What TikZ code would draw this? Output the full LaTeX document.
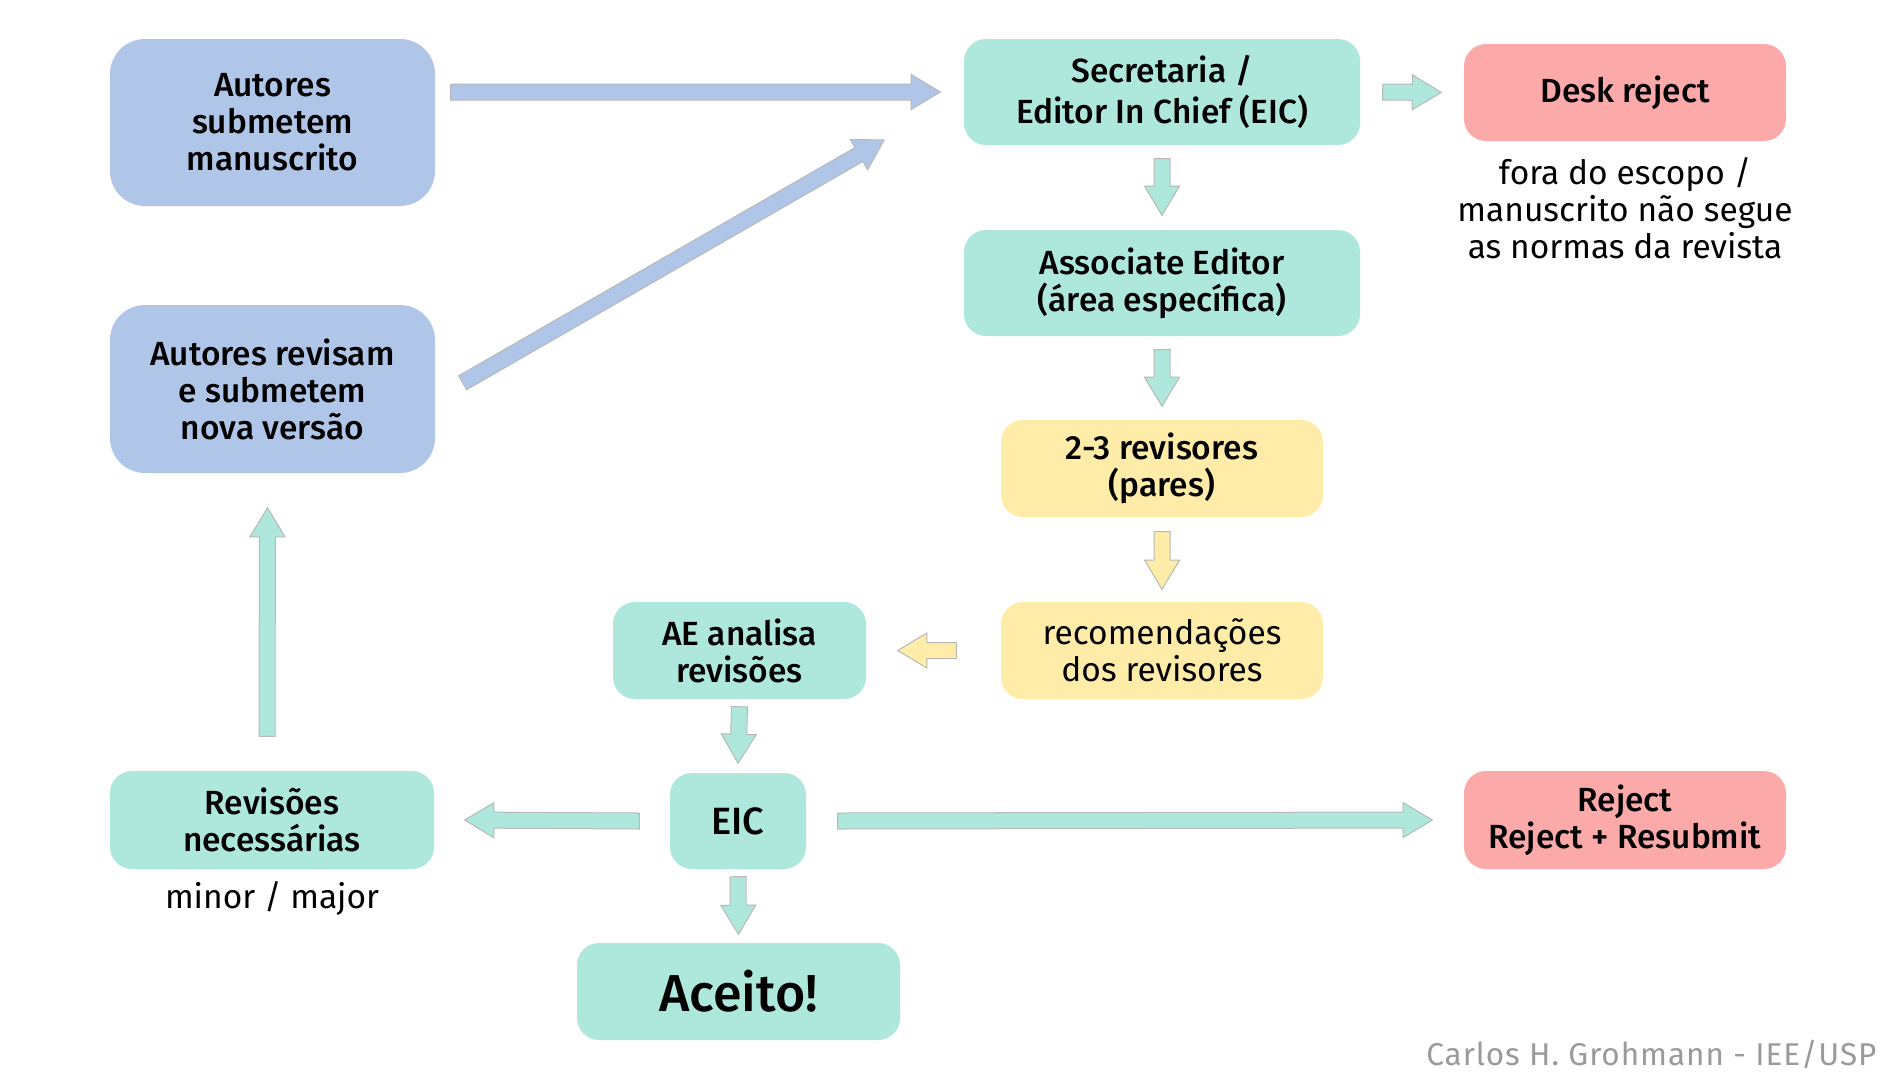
\documentclass[tikz,border=0pt]{standalone}
\usepackage{fontspec}
\IfFontExistsTF{Fira Sans Medium}{\setmainfont{Fira Sans}[BoldFont={Fira Sans Medium}]}{\setmainfont{Fira Sans}}
\usetikzlibrary{shapes.arrows,calc}
\definecolor{boxblue}{HTML}{B0C6E8}
\definecolor{boxteal}{HTML}{AEE8DC}
\definecolor{boxyellow}{HTML}{FFECA8}
\definecolor{boxred}{HTML}{FCA9A9}
\definecolor{arrowgray}{HTML}{B8B8B8}
\definecolor{creditgray}{HTML}{9A9A9A}
\tikzset{
  box/.style={rectangle, rounded corners=22pt, inner sep=0pt, align=center,
    font=\fontsize{33.5}{37}\selectfont\bfseries, text=black},
  bigbox/.style={box, rounded corners=35pt, minimum width=325pt, minimum height=167pt, fill=boxblue},
  tealbox/.style={box, fill=boxteal},
  yellowbox/.style={box, fill=boxyellow},
  redbox/.style={box, fill=boxred},
  note/.style={align=center, font=\fontsize{33.5}{37}\selectfont, text=black},
  barrowshape/.style={shape=single arrow, single arrow head extend=9.5pt,
    single arrow tip angle=62, single arrow head indent=0pt,
    minimum width=34pt, inner xsep=0pt, inner ysep=7.5pt, draw=arrowgray, line width=1pt}
}
\newcommand\blockarrow[3]{%
  \path let \p1=(#1), \p2=(#2), \n1={atan2(\y2-\y1,\x2-\x1)}, \n2={veclen(\x2-\x1,\y2-\y1)} in
    node[barrowshape, fill=#3, rotate=\n1, minimum height=\n2, anchor=tail] at (#1) {};
}
\begin{document}
\begin{tikzpicture}[x=1pt,y=-1pt]
\fill[white] (0,0) rectangle (1900,1080);
\path[use as bounding box] (0,0) rectangle (1900,1080);

% nodes
\node[bigbox] (A) at (272.5,122.5) {Autores\\submetem\\manuscrito};
\node[bigbox, minimum height=168pt] (R) at (272.5,389) {Autores revisam\\e submetem\\nova versão};
\node[tealbox, minimum width=396pt, minimum height=106pt] (S) at (1162,92) {Secretaria /\\[4pt]Editor In Chief (EIC)};
\node[redbox, minimum width=322pt, minimum height=97pt] (D) at (1625,92.5) {Desk reject};
\node[note] (DL) at (1625,208) {fora do escopo /\\manuscrito não segue\\as normas da revista};
\node[tealbox, minimum width=396pt, minimum height=106pt] (AE) at (1162,283) {Associate Editor\\(área específica)};
\node[yellowbox, minimum width=322pt, minimum height=97pt] (RV) at (1162,468.5) {2-3 revisores\\(pares)};
\node[yellowbox, minimum width=322pt, minimum height=97pt, font=\fontsize{33.5}{37}\selectfont] (RC) at (1162,650.5) {recomendações\\dos revisores};
\node[tealbox, minimum width=253pt, minimum height=97pt] (AN) at (739.5,650.5) {AE analisa\\revisões};
\node[tealbox, minimum width=136pt, minimum height=96pt, font=\fontsize{38}{42}\selectfont\bfseries] (EIC) at (738,821) {EIC};
\node[tealbox, minimum width=323pt, minimum height=97pt, font=\fontsize{52}{56}\selectfont\bfseries] (AC) at (738.5,991.5) {Aceito!};
\node[tealbox, minimum width=324pt, minimum height=98pt] (RN) at (272,820) {Revisões\\necessárias};
\node[note] (RNL) at (272,899) {minor / major};
\node[redbox, minimum width=322pt, minimum height=98pt] (RJ) at (1625,820) {Reject\\Reject + Resubmit};
\node[anchor=east, text=creditgray, font=\fontsize{31.5}{35}\selectfont\addfontfeature{LetterSpace=3}] (CR) at (1880,1054) {Carlos H. Grohmann - IEE/USP};

% arrow end points
\coordinate (a1s) at ($(A.east |- S.west)+(15,0)$);
\coordinate (a1e) at ($(S.west)+(-24,0)$);
\coordinate (a2s) at ($(R.east)+(27,-6)$);
\coordinate (a2e) at ($(S.south west)+(-80,-5)$);
\coordinate (a3s) at ($(S.east)+(22,0)$);
\coordinate (a3e) at ($(D.west)+(-23,0)$);
\coordinate (a4s) at ($(S.south)+(0,13)$);
\coordinate (a4e) at ($(AE.north)+(0,-15)$);
\coordinate (a5s) at ($(AE.south)+(0,13)$);
\coordinate (a5e) at ($(RV.north)+(0,-14)$);
\coordinate (a6s) at ($(RV.south)+(0,14)$);
\coordinate (a6e) at ($(RC.north)+(0,-13)$);
\coordinate (a7s) at ($(RC.west)+(-44,0)$);
\coordinate (a7e) at ($(AN.east)+(32,0)$);
\coordinate (a8s) at ($(AN.south)+(0,7)$);
\coordinate (a8e) at ($(EIC.north)+(0,-10)$);
\coordinate (a9s) at ($(EIC.west)+(-30,0)$);
\coordinate (a9e) at ($(RN.east)+(31,0)$);
\coordinate (a10s) at ($(EIC.east)+(31,0)$);
\coordinate (a10e) at ($(RJ.west)+(-32,0)$);
\coordinate (a11s) at ($(EIC.south)+(0,7)$);
\coordinate (a11e) at ($(AC.north)+(0,-9)$);
\coordinate (a12s) at ($(RN.north)+(-5,-34)$);
\coordinate (a12e) at ($(R.south)+(-5,35)$);

% connectors
\blockarrow{a1s}{a1e}{boxblue}
\blockarrow{a2s}{a2e}{boxblue}
\blockarrow{a3s}{a3e}{boxteal}
\blockarrow{a4s}{a4e}{boxteal}
\blockarrow{a5s}{a5e}{boxteal}
\blockarrow{a6s}{a6e}{boxyellow}
\blockarrow{a7s}{a7e}{boxyellow}
\blockarrow{a8s}{a8e}{boxteal}
\blockarrow{a9s}{a9e}{boxteal}
\blockarrow{a10s}{a10e}{boxteal}
\blockarrow{a11s}{a11e}{boxteal}
\blockarrow{a12s}{a12e}{boxteal}
\end{tikzpicture}
\end{document}
